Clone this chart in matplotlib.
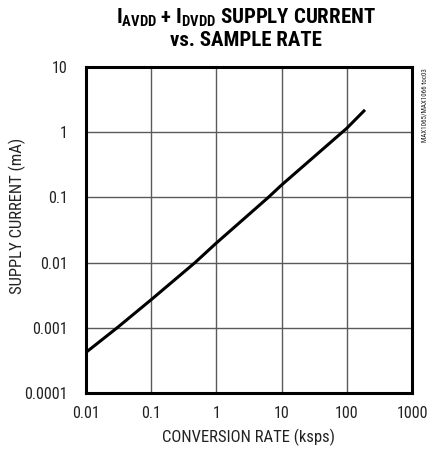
import matplotlib
matplotlib.use("Agg")
import matplotlib.pyplot as plt
from matplotlib import font_manager
from matplotlib.ticker import FixedLocator, FixedFormatter, NullLocator

# 読み取った値 (ksps, mA)
rate_ksps = [0.01, 0.03, 0.1, 0.47, 1, 6.25, 10, 100, 190]
current_ma = [0.00042, 0.001, 0.0027, 0.01, 0.020, 0.1, 0.155, 1.15, 2.2]

x_ticks = [0.01, 0.1, 1, 10, 100, 1000]
x_labels = ["0.01", "0.1", "1", "10", "100", "1000"]
y_ticks = [0.0001, 0.001, 0.01, 0.1, 1, 10]
y_labels = ["0.0001", "0.001", "0.01", "0.1", "1", "10"]

# 使えるナローフォントを探す
available = {f.name for f in font_manager.fontManager.ttflist}
narrow = "DejaVu Sans"
for name in ["Roboto Condensed", "Archivo Narrow", "Barlow Condensed", "Asap Condensed"]:
    if name in available:
        narrow = name
        break

plt.rcParams["font.family"] = [narrow, "DejaVu Sans"]
plt.rcParams["mathtext.fontset"] = "custom"
plt.rcParams["mathtext.bf"] = narrow + ":black"
plt.rcParams["mathtext.rm"] = narrow

fig = plt.figure(figsize=(4.38, 4.53), dpi=100)
ax = fig.add_axes([86 / 438, 60 / 453, 326 / 438, 326 / 453])

ax.plot(rate_ksps, current_ma, color="black", lw=2.2, solid_capstyle="butt")

ax.set_xscale("log")
ax.set_yscale("log")
ax.set_xlim(0.01, 1000)
ax.set_ylim(0.0001, 10)

ax.xaxis.set_major_locator(FixedLocator(x_ticks))
ax.xaxis.set_major_formatter(FixedFormatter(x_labels))
ax.yaxis.set_major_locator(FixedLocator(y_ticks))
ax.yaxis.set_major_formatter(FixedFormatter(y_labels))
ax.xaxis.set_minor_locator(NullLocator())
ax.yaxis.set_minor_locator(NullLocator())

ax.grid(True, color="#5a5a5a", lw=1.0)
ax.tick_params(length=0, labelsize=11.5, colors="#222222")
ax.tick_params(axis="x", pad=9)
ax.tick_params(axis="y", pad=13)
for s in ax.spines.values():
    s.set_linewidth(2.2)

ax.set_xlabel("CONVERSION RATE (ksps)", fontsize=12, color="#222222", labelpad=6)
ax.set_ylabel("SUPPLY CURRENT (mA)", fontsize=12, color="#222222")
ax.yaxis.set_label_coords(-0.185, 0.543)

title1 = r"$\mathbf{I_{AVDD}}$ + $\mathbf{I_{DVDD}}$ SUPPLY CURRENT"
fig.text(246 / 438, 1 - 18 / 453, title1, ha="center", va="center",
         fontsize=15, fontweight="black")
fig.text(246 / 438, 1 - 41 / 453, "vs. SAMPLE RATE", ha="center", va="center",
         fontsize=15, fontweight="black")

fig.text(425 / 438, 1 - 68 / 453, "MAX1065/MAX1066 toc03", rotation=90,
         ha="center", va="top", fontsize=5, color="#222222")

fig.savefig("out.png", dpi=100)
